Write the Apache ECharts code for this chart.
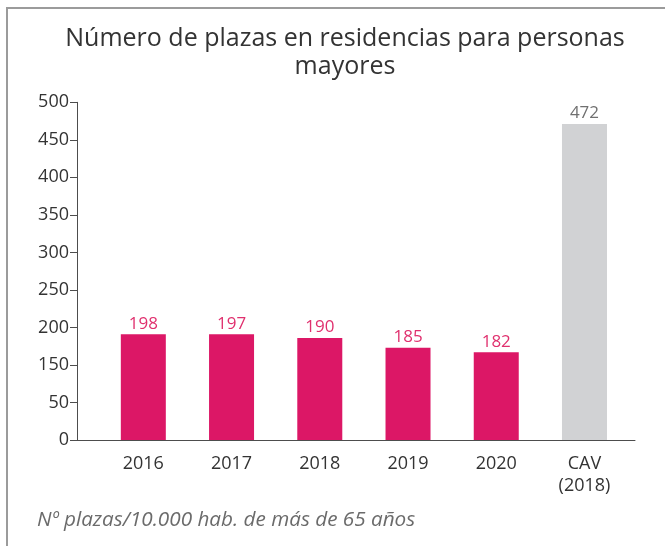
<!DOCTYPE html>
<html>
<head>
<meta charset="utf-8">
<script src="https://cdn.jsdelivr.net/npm/echarts@6/dist/echarts.min.js"></script>
<style>
  html, body { margin: 0; padding: 0; background: #fff; }
  .wrap { position: relative; width: 665px; height: 546px; }
  .marco {
    position: absolute; left: 6px; top: 7px; right: 0; bottom: 0;
    border-top: 2px solid #9b9b9b; border-left: 2px solid #9b9b9b;
    pointer-events: none;
  }
  #chart { width: 665px; height: 546px; }
</style>
</head>
<body>
<div class="wrap">
  <div id="chart"></div>
  <div class="marco"></div>
</div>
<script>
// categorías del eje x
const categorias = ['2016', '2017', '2018', '2019', '2020', 'CAV\n(2018)']
// valores impresos sobre cada barra
const valores = [198, 197, 190, 185, 182, 472]
// altura de cada barra leída contra el eje (el gráfico original no coincide con los rótulos)
const alturas = [191, 191, 186, 173, 167, 471]
// rótulos del eje y tal como aparecen (falta el 100 en el original)
const etiquetasY = ['0', '50', '150', '200', '250', '300', '350', '400', '450', '500']

const ROSA = '#dc1766'
const GRIS = '#d1d2d4'
const fuente = '"Open Sans", "DejaVu Sans", sans-serif'

const myChart = echarts.init(document.getElementById('chart'))

const option = {
  animation: false,
  textStyle: { fontFamily: fuente },
  graphic: [
    {
      type: 'text',
      x: 345,
      y: 25,
      style: {
        text: 'Número de plazas en residencias para personas\nmayores',
        align: 'center',
        verticalAlign: 'top',
        fontFamily: fuente,
        fontSize: 25,
        lineHeight: 28,
        fill: '#333'
      }
    },
    {
      type: 'text',
      x: 37,
      y: 510,
      style: {
        text: 'Nº plazas/10.000 hab. de más de 65 años',
        verticalAlign: 'top',
        fontFamily: fuente,
        fontStyle: 'italic',
        fontSize: 20.7,
        fill: '#6b6b6b'
      }
    }
  ],
  grid: [
    // marco de ejes
    { left: 77, right: 30, top: 102.3, bottom: 106 },
    // zona de barras
    { left: 99.2, right: 36.4, top: 102.3, bottom: 106 }
  ],
  xAxis: [
    {
      gridIndex: 0,
      type: 'value',
      min: 0,
      max: 1,
      axisLine: { show: true, onZero: false, lineStyle: { color: '#4d4d4d', width: 1 } },
      axisTick: { show: false },
      axisLabel: { show: false },
      splitLine: { show: false }
    },
    {
      gridIndex: 1,
      type: 'category',
      data: categorias,
      axisLine: { show: false },
      axisTick: { show: false },
      axisLabel: {
        margin: 13,
        fontSize: 18,
        lineHeight: 22,
        color: '#333',
        fontFamily: fuente
      }
    }
  ],
  yAxis: [
    {
      gridIndex: 0,
      type: 'value',
      min: 50,
      max: 500,
      interval: 50,
      axisLine: { show: true, lineStyle: { color: '#4d4d4d', width: 1 } },
      axisTick: { show: true, length: 7, lineStyle: { color: '#4d4d4d' } },
      axisLabel: {
        margin: 8,
        fontSize: 18,
        color: '#333',
        fontFamily: fuente,
        formatter: (v, i) => etiquetasY[i]
      },
      splitLine: { show: false }
    },
    {
      gridIndex: 1,
      type: 'value',
      min: 50,
      max: 500,
      interval: 50,
      show: false
    }
  ],
  series: [
    {
      type: 'bar',
      xAxisIndex: 1,
      yAxisIndex: 1,
      barWidth: 45,
      clip: true,
      data: alturas.map((v, i) => ({
        value: v,
        itemStyle: { color: i === alturas.length - 1 ? GRIS : ROSA },
        label: { color: i === alturas.length - 1 ? '#707070' : '#e0306e' }
      })),
      label: {
        show: true,
        position: 'top',
        distance: 2,
        fontSize: 17,
        fontFamily: fuente,
        formatter: (p) => valores[p.dataIndex]
      }
    }
  ]
}

myChart.setOption(option)
window.addEventListener('resize', () => {
  myChart.resize()
})
</script>
</body>
</html>
